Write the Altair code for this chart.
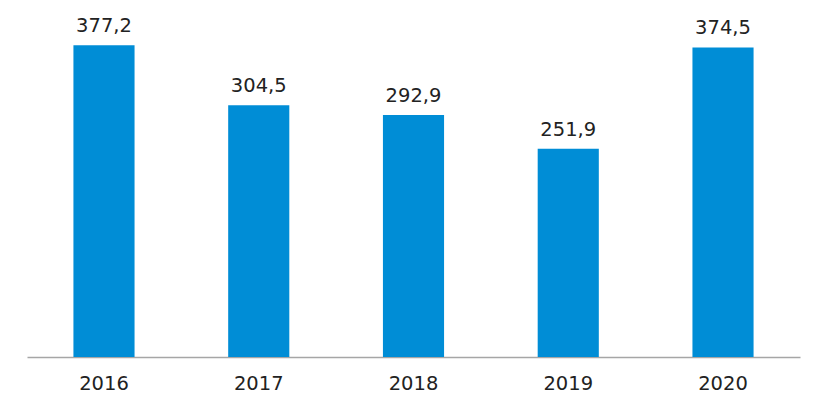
import altair as alt
import pandas as pd

years = ["2016", "2017", "2018", "2019", "2020"]
values = [377.2, 304.5, 292.9, 251.9, 374.5]

df = pd.DataFrame({"year": years, "value": values})

base = alt.Chart(df).encode(
    x=alt.X("year:N", sort=years,
            scale=alt.Scale(paddingInner=0.605, paddingOuter=0.3),
            axis=alt.Axis(title=None, labelAngle=0, ticks=False, domain=True,
                          domainColor="#A6A6A6", domainWidth=1.5,
                          labelFont="DejaVu Sans", labelFontSize=19.5,
                          labelColor="#222222", labelPadding=17)),
    y=alt.Y("value:Q", scale=alt.Scale(domain=[0, 421], nice=False), axis=None),
)

bars = base.mark_bar(color="#008DD6")
labels = base.transform_calculate(
    lab="replace(format(datum.value, '.1f'), '.', ',')"
).mark_text(dy=-13, baseline="alphabetic", font="DejaVu Sans", fontSize=19.5,
            color="#222222").encode(text="lab:N")

chart = (bars + labels).properties(
    width=773, height=348,
    autosize=alt.AutoSizeParams(type="none"),
    padding={"left": 19, "top": 1, "right": 19, "bottom": 45},
).configure_view(stroke=None)

chart.save("out.html", embed_options={"renderer": "svg", "actions": False})
